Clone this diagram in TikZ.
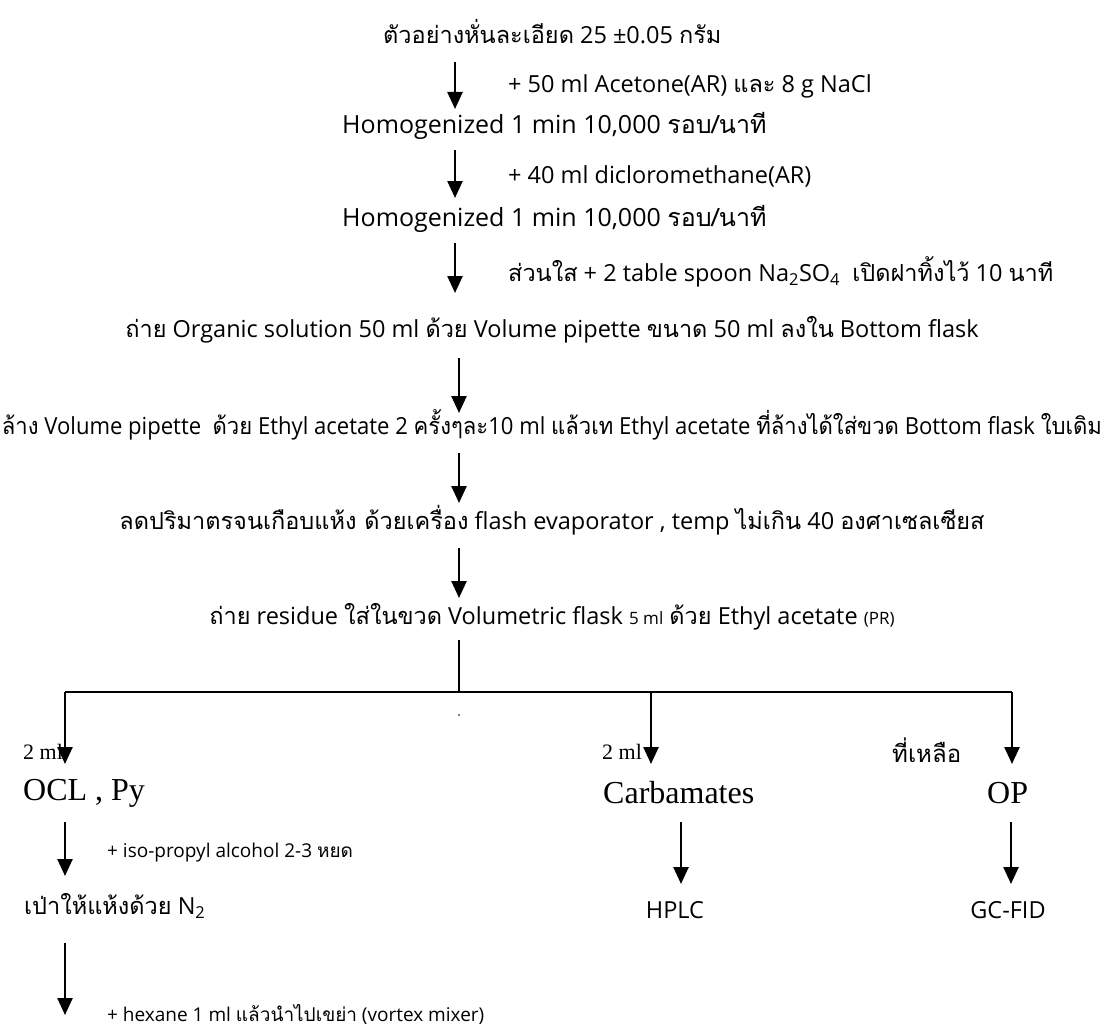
\documentclass[tikz,border=0pt]{standalone}
\usepackage{fontspec}
\usepackage{graphicx}
\usetikzlibrary{arrows.meta}
\setmainfont{Open Sans}
\newfontfamily\thf[Script=Thai]{Loma}
\newfontfamily\serf{Liberation Serif}
\begin{document}
\begin{tikzpicture}[x=1pt,y=-1pt,
  txt/.style={inner sep=0pt, font=\fontsize{23.5}{28}\selectfont},
  txtl/.style={inner sep=0pt, font=\fontsize{25}{29}\selectfont},
  sml/.style={inner sep=0pt, font=\fontsize{19}{23}\selectfont},
  ser/.style={inner sep=0pt, font=\serf\fontsize{32}{36}\selectfont},
  sersm/.style={inner sep=0pt, font=\serf\fontsize{22}{25}\selectfont},
  arr/.style={line width=2.5pt, -{Triangle[width=15pt,length=17pt]}},
  ln/.style={line width=2pt}]
\useasboundingbox (0,0) rectangle (1105,1030);

% main column
\node[txt,anchor=west] (l1) at (383,32) {{\thf ตัวอย่างหั่นละเอียด} 25 ±0.05 {\thf กรัม}};
\node[txt,anchor=west] (la1) at (508,86) {+ 50 ml Acetone(AR) {\thf และ} 8 g NaCl};
\node[txtl,anchor=west] (l3) at (342,126) {Homogenized 1 min 10,000 {\thf รอบ/นาที}};
\node[txt,anchor=west] (la2) at (508,176) {+ 40 ml dicloromethane(AR)};
\node[txtl,anchor=west] (l5) at (342,219) {Homogenized 1 min 10,000 {\thf รอบ/นาที}};
\node[txt,anchor=west] (la3) at (508,272) {{\thf ส่วนใส} + 2 table spoon Na\textsubscript{2}SO\textsubscript{4}\ \ {\thf เปิดฝาทิ้งไว้} 10 {\thf นาที}};
\node[txt] (l7) at (552,330) {{\thf ถ่าย} Organic solution 50 ml {\thf ด้วย} Volume pipette {\thf ขนาด} 50 ml {\thf ลงใน} Bottom flask};
\node[txt] (l9) at (552,425) {\resizebox{1100pt}{\height}{{\thf ล้าง} Volume pipette\ \ {\thf ด้วย} Ethyl acetate 2 {\thf ครั้งๆละ}10 ml {\thf แล้วเท} Ethyl acetate {\thf ที่ล้างได้ใส่ขวด} Bottom flask {\thf ใบเดิม}}};
\node[txt] (l11) at (552,520) {{\thf ลดปริมาตรจนเกือบแห้ง ด้วยเครื่อง} flash evaporator , temp {\thf ไม่เกิน} 40 {\thf องศาเซลเซียส}};
\node[txt] (l13) at (552,617) {{\thf ถ่าย} residue {\thf ใส่ในขวด} Volumetric flask {\fontsize{17}{20}\selectfont 5 ml} {\thf ด้วย} Ethyl acetate {\fontsize{17}{20}\selectfont (PR)}};

\coordinate (a1s) at (455,62);  \coordinate (a1e) at (455,109);
\coordinate (a2s) at (455,150); \coordinate (a2e) at (455,198);
\coordinate (a3s) at (455,243); \coordinate (a3e) at (455,293);
\coordinate (a4s) at (459,358); \coordinate (a4e) at (459,413);
\coordinate (a5s) at (459,453); \coordinate (a5e) at (459,503);
\coordinate (a6s) at (459,548); \coordinate (a6e) at (459,598);
\draw[arr] (a1s) -- (a1e);
\draw[arr] (a2s) -- (a2e);
\draw[arr] (a3s) -- (a3e);
\draw[arr] (a4s) -- (a4e);
\draw[arr] (a5s) -- (a5e);
\draw[arr] (a6s) -- (a6e);

% branching
\coordinate (bs) at (459,640);
\coordinate (bj) at (459,692);
\coordinate (bl) at (65,692);
\coordinate (bm) at (651,692);
\coordinate (br) at (1012,692);
\draw[ln] (bs) -- (bj);
\draw[ln] (bl) -- (br);
\fill (459,715) circle (0.8pt);

\node[sersm,anchor=west] (ml1) at (23,752) {2 ml};
\node[sersm,anchor=west] (ml2) at (602,752) {2 ml};
\node[sersm,anchor=west] (rest) at (892,750) {{\thf\fontsize{24}{28}\selectfont ที่เหลือ}};

\node[ser,anchor=west] (ocl) at (23,793) {OCL , Py};
\node[ser,anchor=west] (carb) at (603,793) {Carbamates};
\node[ser,anchor=west] (op) at (987,793) {OP};

\coordinate (c1e) at (65,764);
\coordinate (c2e) at (651,764);
\coordinate (c3e) at (1012,764);
\draw[arr] (bl) -- (c1e);
\draw[arr] (bm) -- (c2e);
\draw[arr] (br) -- (c3e);

\coordinate (d1s) at (65,822);  \coordinate (d1e) at (65,876);
\coordinate (d2s) at (681,822); \coordinate (d2e) at (681,884);
\coordinate (d3s) at (1011,822); \coordinate (d3e) at (1011,884);
\draw[arr] (d1s) -- (d1e);
\draw[arr] (d2s) -- (d2e);
\draw[arr] (d3s) -- (d3e);

\node[sml,anchor=west] (iso) at (107,853) {+ iso-propyl alcohol 2-3 {\thf หยด}};
\node[txt,anchor=west] (blow) at (24,906) {{\thf เป่าให้แห้งด้วย} N\textsubscript{2}};
\node[txt] (hplc) at (675,910) {HPLC};
\node[txt] (gc) at (1008,910) {GC-FID};

\coordinate (e1s) at (65,943); \coordinate (e1e) at (65,1015);
\draw[arr] (e1s) -- (e1e);
\node[sml,anchor=west] (hex) at (107,1014) {+ hexane 1 ml {\thf แล้วนำไปเขย่า} (vortex mixer)};
\end{tikzpicture}
\end{document}
